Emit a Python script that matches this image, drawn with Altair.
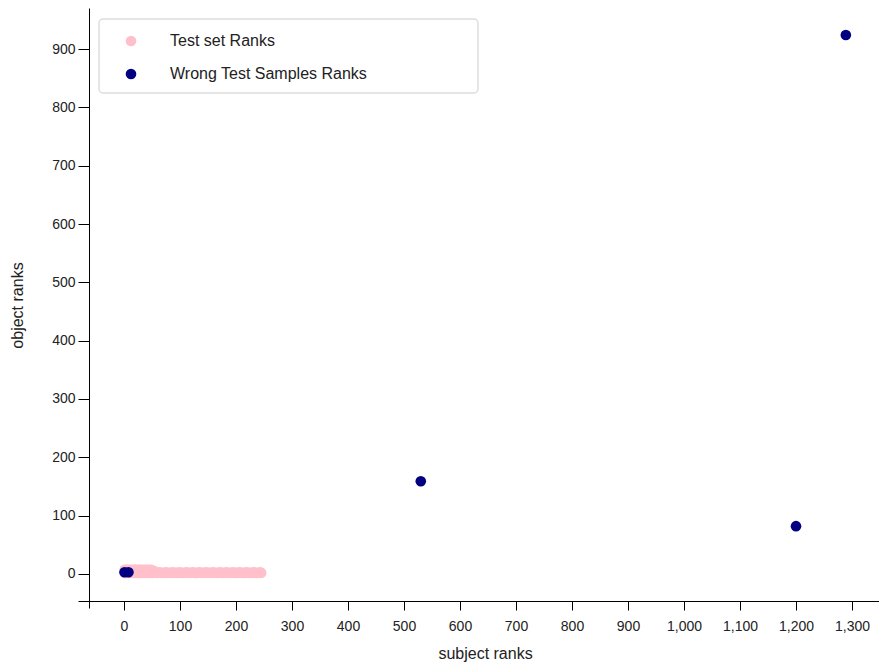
import altair as alt
import pandas as pd

# Test-set ranks: (subject rank, object rank) pairs
test_subject = [1, 2, 4, 5, 7, 9, 10, 12, 14, 16, 17, 19, 21, 23, 25, 27, 29, 31,
                33, 35, 37, 39, 41, 43, 45, 47, 49, 51, 53, 55,
                1, 3, 6, 8, 11, 13, 15, 18, 20, 22, 24, 26, 28, 30, 32, 34, 36,
                38, 40, 42, 44, 46, 48, 50, 52, 54, 57, 60, 63, 66, 69, 72, 75,
                78, 81, 84, 87, 90, 93, 96, 99, 102, 105, 108, 111, 114, 117,
                120, 123, 126, 129, 132, 135, 138, 141, 144, 147, 150, 153, 156,
                159, 162, 165, 168, 171, 174, 177, 180, 183, 186, 189, 192, 195,
                198, 201, 204, 207, 210, 213, 216, 219, 222, 225, 228, 231, 234,
                237, 240, 243, 245]
test_object = [7, 6, 7, 7, 6, 7, 7, 6, 7, 7, 6, 7, 7, 6, 7, 7, 6, 7,
               7, 6, 7, 7, 6, 7, 7, 6, 7, 6, 5, 4,
               2, 2, 3, 2, 2, 3, 2, 2, 2, 3, 2, 2, 2, 3, 2, 2, 2,
               3, 2, 2, 2, 3, 2, 2, 2, 3, 2, 2, 3, 2, 2, 2, 3,
               2, 2, 2, 3, 2, 2, 2, 3, 2, 2, 2, 3, 2, 2,
               2, 3, 2, 2, 2, 3, 2, 2, 2, 3, 2, 2, 2,
               3, 2, 2, 2, 3, 2, 2, 2, 3, 2, 2, 2, 3,
               2, 2, 2, 3, 2, 2, 2, 3, 2, 2, 2, 3, 2,
               2, 2, 3, 2]

# Ranks of the misclassified test samples
wrong_subject = [1, 8, 530, 1200, 1289]
wrong_object = [3, 3, 159, 82, 924]

series_names = ["Test set Ranks", "Wrong Test Samples Ranks"]
series_colors = ["pink", "navy"]

x_ticks = [0, 100, 200, 300, 400, 500, 600, 700, 800, 900, 1000, 1100, 1200, 1300]
y_ticks = [0, 100, 200, 300, 400, 500, 600, 700, 800, 900]

df = pd.concat([
    pd.DataFrame({"subject": test_subject, "object": test_object, "series": series_names[0]}),
    pd.DataFrame({"subject": wrong_subject, "object": wrong_object, "series": series_names[1]}),
], ignore_index=True)

FONT = "Liberation Sans, Arial, sans-serif"

# legend frame
frame = alt.Chart(pd.DataFrame({"k": [0]})).mark_rect(
    fill="white", stroke="#dddddd", strokeWidth=1.5, cornerRadius=4
).encode(
    x=alt.value(21), x2=alt.value(400), y=alt.value(11), y2=alt.value(85)
)

points = alt.Chart(df).mark_point(filled=True, size=113, opacity=1).encode(
    x=alt.X("subject:Q",
            scale=alt.Scale(domain=[-82.1, 1348.2], nice=False, zero=False),
            axis=alt.Axis(title="subject ranks", values=x_ticks, format=",d",
                          offset=-7, tickSize=9, labelPadding=9,
                          titleX=407, titleY=52,
                          titleBaseline="middle", titleAlign="center")),
    y=alt.Y("object:Q",
            scale=alt.Scale(domain=[-58.3, 970.3], nice=False, zero=False),
            axis=alt.Axis(title="object ranks", values=y_ticks, format="d",
                          offset=-11, tickSize=11, labelPadding=3,
                          titleX=-72, titleY=297, titleAngle=270,
                          titleBaseline="middle", titleAlign="center")),
    color=alt.Color("series:N",
                    scale=alt.Scale(domain=series_names, range=series_colors),
                    legend=alt.Legend(title=None, orient="none", legendX=45, legendY=25,
                                      symbolType="circle", symbolSize=113,
                                      symbolStrokeWidth=0, labelFontSize=16,
                                      labelFont=FONT, labelColor="#222222",
                                      labelLimit=400,
                                      labelOffset=31, rowPadding=17, padding=0)),
)

chart = alt.layer(frame, points).properties(
    width=801, height=600,
    autosize=alt.AutoSizeParams(type="none"),
    padding={"left": 78, "top": 8, "right": 0, "bottom": 57},
).configure_view(
    stroke=None
).configure_axis(
    grid=False,
    domainColor="black", domainWidth=1,
    tickColor="black", tickWidth=1,
    labelFont=FONT, labelFontSize=14, labelColor="#222222",
    titleFont=FONT, titleFontSize=16, titleFontWeight="normal", titleColor="#222222",
)

chart.save("out.html", embed_options={"renderer": "svg", "actions": False})
